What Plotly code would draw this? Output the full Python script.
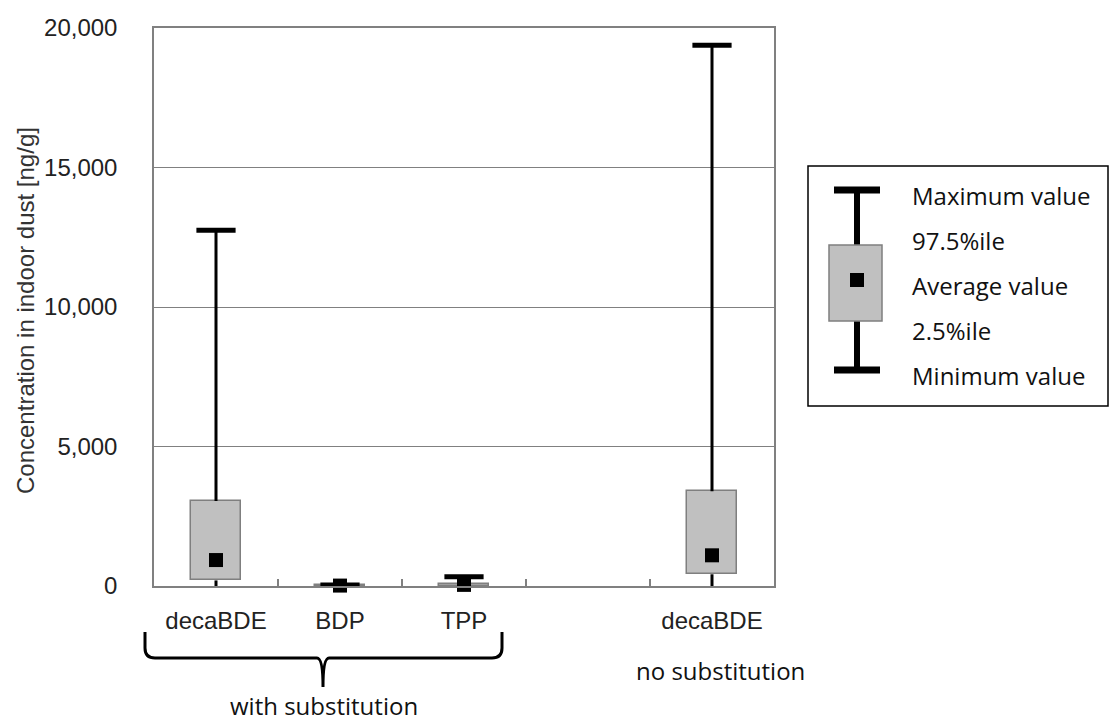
import plotly.graph_objects as go

# ---- data ----
slot_index = [0, 1, 2, 4]          # category slots that carry data (slot 3 is empty)
labels = ["decaBDE", "BDP", "TPP", "decaBDE"]
minimum = [0, 0, 0, 0]
p025 = [200, 0, 0, 420]
average = [930, 15, 40, 1100]
p975 = [3050, 40, 80, 3400]
maximum = [12750, 40, 330, 19380]

y_ticks = [0, 5000, 10000, 15000, 20000]
right_ticks = [4000, 8000, 12000, 16000]
legend_texts = ["Maximum value", "97.5%ile", "Average value", "2.5%ile", "Minimum value"]

W, H = 1114, 722
L, R, T, B = 154, 774, 28, 586


def px(x, y):
    return (x - L) / (R - L), (B - y) / (B - T)


arial = "Liberation Sans, Arial, sans-serif"
calibri = "Open Sans, sans-serif"

fig = go.Figure()

# whiskers (outside the box)
wx, wy = [], []
for i, s in enumerate(slot_index):
    wx += [s, s, None, s, s, None]
    wy += [p975[i], maximum[i], None, minimum[i], p025[i], None]
fig.add_trace(go.Scatter(x=wx, y=wy, mode="lines", line=dict(color="black", width=3),
                         hoverinfo="skip", showlegend=False, cliponaxis=False))

# boxes 2.5%ile - 97.5%ile
fig.add_trace(go.Bar(x=slot_index, y=[h - l for h, l in zip(p975, p025)], base=p025,
                     width=0.4, marker=dict(color="#c0c0c0", line=dict(color="#7f7f7f", width=1.5)),
                     showlegend=False))

# caps at maximum
fig.add_trace(go.Scatter(x=slot_index, y=maximum, mode="markers",
                         marker=dict(symbol="line-ew", size=28, line=dict(color="black", width=5)),
                         showlegend=False, cliponaxis=False))

# averages
fig.add_trace(go.Scatter(x=slot_index, y=average, mode="markers",
                         marker=dict(symbol="square", size=14, color="black"),
                         showlegend=False, cliponaxis=False))

fig.update_layout(
    width=W, height=H,
    margin=dict(l=L, r=W - R, t=T, b=H - B),
    paper_bgcolor="white", plot_bgcolor="white",
    font=dict(family=arial, color="#222"),
    bargap=0,
    xaxis=dict(range=[-0.5, 4.5], tickvals=slot_index, ticktext=labels, ticks="",
               tickfont=dict(size=24, family=arial, color="#222"), showgrid=False, zeroline=False,
               showline=True, linecolor="#808080", linewidth=1.5, mirror=True,
               ticklabelstandoff=12,
               minor=dict(tickvals=[0.5, 1.5, 2.5, 3.5], ticks="inside", ticklen=7,
                          tickcolor="#808080", tickwidth=1.5, showgrid=False)),
    yaxis=dict(range=[0, 20000], tickvals=y_ticks, tickformat=",", ticks="",
               tickfont=dict(size=24, family=arial, color="#222"), showgrid=True,
               gridcolor="#808080", gridwidth=1,
               zeroline=False, showline=True, linecolor="#808080", linewidth=1.5, mirror=True,
               ticklabelstandoff=30),
    yaxis2=dict(range=[0, 20000], overlaying="y", side="right", anchor="x",
                tickvals=right_ticks, ticks="inside", ticklen=7, tickcolor="#808080",
                tickwidth=1.5, showticklabels=False, showgrid=False, zeroline=False,
                showline=False),
)

# y-axis title
fig.add_annotation(x=px(25, 0)[0], y=px(0, 311)[1], xref="paper", yref="paper",
                   xanchor="center", yanchor="middle",
                   text="Concentration in indoor dust [ng/g]", textangle=-90, showarrow=False,
                   font=dict(size=24, family=arial, color="#333"))

# group labels
gx, gy = px(720, 670)
fig.add_annotation(x=gx, y=gy, xref="paper", yref="paper", text="no substitution",
                   xanchor="center", yanchor="middle",
                   showarrow=False, font=dict(size=24, family=calibri, color="#111"))
gx, gy = px(324, 705)
fig.add_annotation(x=gx, y=gy, xref="paper", yref="paper", text="with substitution",
                   xanchor="center", yanchor="middle",
                   showarrow=False, font=dict(size=24, family=calibri, color="#111"))

# brace
x0, y0 = px(145, 632)
x1, _ = px(502, 632)
xc, _ = px(323, 0)
_, yh = px(0, 658)
_, yt = px(0, 687)
_, yr = px(0, 648)
rx = px(155, 0)[0] - x0
dx = px(160, 0)[0] - px(154, 0)[0]
path = (f"M {x0},{y0} L {x0},{yr} Q {x0},{yh} {x0+rx},{yh} L {xc-dx},{yh} "
        f"Q {xc},{yh} {xc},{yt} Q {xc},{yh} {xc+dx},{yh} L {x1-rx},{yh} "
        f"Q {x1},{yh} {x1},{yr} L {x1},{y0}")
fig.add_shape(type="path", path=path, xref="paper", yref="paper",
              line=dict(color="black", width=3))

# legend illustration
bx0, by0 = px(808, 406)
bx1, by1 = px(1108, 166)
fig.add_shape(type="rect", x0=bx0, y0=by0, x1=bx1, y1=by1, xref="paper", yref="paper",
              line=dict(color="black", width=1.5), fillcolor="white")
lx, _ = px(857, 0)
for ya, yb in [(190, 245), (321, 370)]:
    fig.add_shape(type="line", x0=lx, x1=lx, y0=px(0, ya)[1], y1=px(0, yb)[1],
                  xref="paper", yref="paper", line=dict(color="black", width=6))
for yc in [190, 370]:
    fig.add_shape(type="line", x0=px(834, 0)[0], x1=px(880, 0)[0], y0=px(0, yc)[1],
                  y1=px(0, yc)[1], xref="paper", yref="paper", line=dict(color="black", width=7))
fig.add_shape(type="rect", x0=px(829, 0)[0], x1=px(882, 0)[0], y0=px(0, 321)[1],
              y1=px(0, 245)[1], xref="paper", yref="paper",
              fillcolor="#c0c0c0", line=dict(color="#7f7f7f", width=1.5))
fig.add_shape(type="rect", x0=px(850, 0)[0], x1=px(864, 0)[0], y0=px(0, 287)[1],
              y1=px(0, 273)[1], xref="paper", yref="paper",
              fillcolor="black", line=dict(width=0))
for t, yy in zip(legend_texts, [195, 240, 285, 330, 375]):
    fig.add_annotation(x=px(910, 0)[0], y=px(0, yy)[1], xref="paper", yref="paper",
                       text=t, showarrow=False, xanchor="left", yanchor="middle",
                       font=dict(size=24, family=calibri, color="#111"))

fig.write_html("out.html")
